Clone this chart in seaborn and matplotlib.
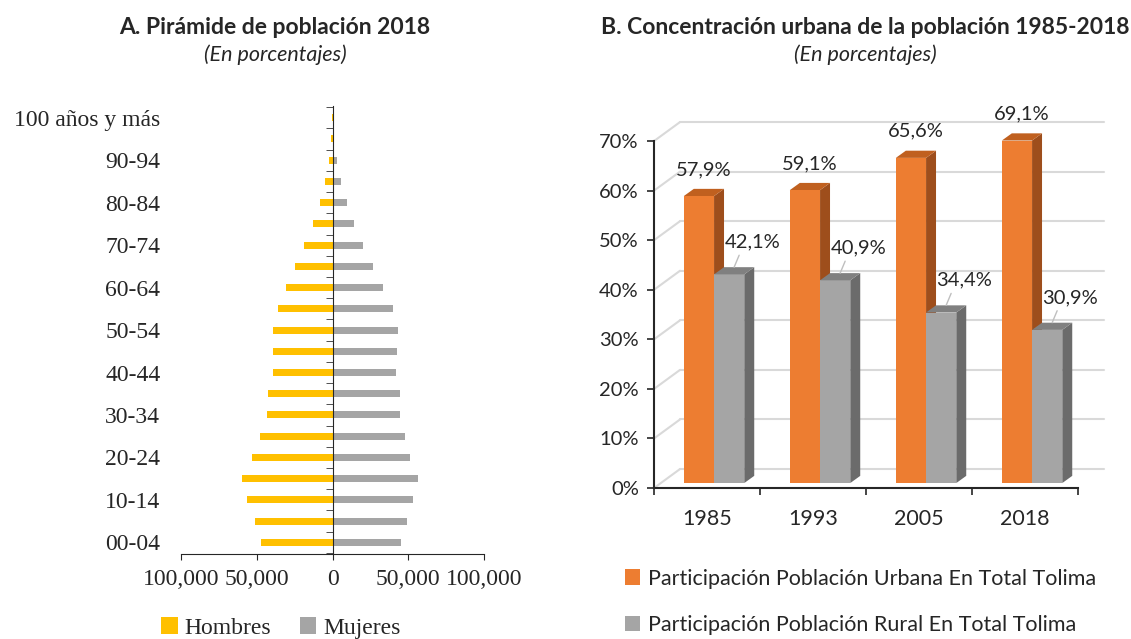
import numpy as np
import pandas as pd
import seaborn as sns
import matplotlib.pyplot as plt
from matplotlib.patches import Polygon

sns.set_style('ticks')
plt.rcParams['font.family'] = ['Lato', 'DejaVu Sans']

# Panel A: population pyramid 2018 (persons)
edades = ['00-04', '05-09', '10-14', '15-19', '20-24', '25-29', '30-34', '35-39',
          '40-44', '45-49', '50-54', '55-59', '60-64', '65-69', '70-74', '75-79',
          '80-84', '85-89', '90-94', '95-99', '100 años y más']
hombres = [47200, 51400, 56100, 59600, 53400, 47900, 43200, 42600, 39300, 39100, 39500,
           36000, 30700, 24700, 18800, 12800, 8200, 4800, 2600, 700, 60]
mujeres = [45500, 49000, 53400, 56300, 51400, 47900, 44600, 44400, 41900, 42800, 43500,
           39700, 33300, 26700, 20300, 14100, 9300, 5500, 2900, 1300, 150]
sexos = ['Hombres', 'Mujeres']
x_ticks_pir = [-100000, -50000, 0, 50000, 100000]

# Panel B: urban / rural share
anios = ['1985', '1993', '2005', '2018']
urbana = [57.9, 59.1, 65.6, 69.1]
rural = [42.1, 40.9, 34.4, 30.9]
series = ['Participación Población Urbana En Total Tolima',
          'Participación Población Rural En Total Tolima']

serif = 'Liberation Serif'

fig = plt.figure(figsize=(11.31, 6.39), dpi=100)
ax1 = fig.add_axes([0.16, 0.133, 0.268, 0.701])
ax2 = fig.add_axes([0.5783, 0.2363, 0.3749, 0.543])

# ---- pyramid
pir = pd.DataFrame({
    'edad': edades * 2,
    'sexo': [sexos[0]] * len(edades) + [sexos[1]] * len(edades),
    'valor': [-h for h in hombres] + mujeres,
})
sns.barplot(data=pir, x='valor', y='edad', hue='sexo', order=edades[::-1],
            hue_order=sexos, palette=['#FFC000', '#A5A5A5'], dodge=False,
            width=0.33, saturation=1, errorbar=None, linewidth=0, ax=ax1)
ax1.set_xlim(-100000, 100000)
ax1.set_ylim(20.55, -0.55)
ax1.set_xlabel('')
ax1.set_ylabel('')
ax1.spines['left'].set_position(('data', 0))
ax1.spines['top'].set_visible(False)
ax1.spines['right'].set_visible(False)
ax1.set_xticks(x_ticks_pir)
ax1.set_xticklabels([f'{abs(v):,}' for v in x_ticks_pir], fontfamily=serif, fontsize=17)
ax1.set_yticks(range(0, 21, 2))
ax1.set_yticklabels(edades[::-1][0::2], fontfamily=serif, fontsize=17)
ax1.set_yticks(np.arange(-0.5, 21, 1.0), minor=True)
ax1.tick_params(axis='y', which='major', length=0, pad=124)
ax1.tick_params(axis='y', which='minor', length=5, direction='out', color='#333333')
ax1.tick_params(axis='x', length=4, direction='out', pad=7)
ax1.legend(loc='center', bbox_to_anchor=(0.33, -0.165), ncol=2, frameon=False,
           prop={'family': serif, 'size': 17}, handlelength=0.7, handleheight=0.7,
           columnspacing=1.2, handletextpad=0.3)

fig.text(275 / 1131, 1 - 28 / 639, 'A. Pirámide de población 2018', ha='center',
         va='center', fontsize=16.5, fontweight='bold')
fig.text(275 / 1131, 1 - 55 / 639, '(En porcentajes)', ha='center', va='center',
         fontsize=15.5, style='italic')

# ---- 3D-looking column chart
urb = pd.DataFrame({
    'anio': anios * 2,
    'serie': [series[0]] * len(anios) + [series[1]] * len(anios),
    'valor': urbana + rural,
})
sns.barplot(data=urb, x='anio', y='valor', hue='serie', hue_order=series,
            palette=['#ED7D31', '#A5A5A5'], width=0.57, saturation=1,
            errorbar=None, linewidth=0, ax=ax2)

dx, dy = 0.094, 1.45      # bar depth
sx, sy = 0.066, 1.0       # bar shift towards the middle of the floor
caras = [('#9E4E1C', '#C0601F', 2), ('#6B6B6B', '#808080', 3.2)]
for cont, (side, top, z) in zip(ax2.containers, caras):
    for p in cont:
        p.set_x(p.get_x() + sx)
        p.set_y(sy)
        p.set_zorder(3)
        p.set_clip_on(False)
        x0 = p.get_x()
        x1 = x0 + p.get_width()
        y0 = sy
        y1 = sy + p.get_height()
        ax2.add_patch(Polygon([(x1, y0), (x1 + dx, y0 + dy), (x1 + dx, y1 + dy), (x1, y1)],
                              closed=True, fc=side, ec='none', zorder=z, clip_on=False))
        ax2.add_patch(Polygon([(x0, y1), (x0 + dx, y1 + dy), (x1 + dx, y1 + dy), (x1, y1)],
                              closed=True, fc=top, ec='none', zorder=z, clip_on=False))

# data labels
for p, v in zip(ax2.containers[0], urbana):
    xc = p.get_x() + p.get_width() / 2 + dx / 2
    ax2.annotate(f'{v:.1f}%'.replace('.', ','), (xc, p.get_height() + sy + dy),
                 xytext=(0, 14), textcoords='offset points', ha='center', va='center',
                 fontsize=14.5, zorder=5, annotation_clip=False)
for p, v in zip(ax2.containers[1], rural):
    xc = p.get_x() + p.get_width() / 2 + dx / 2
    ax2.annotate(f'{v:.1f}%'.replace('.', ','), (xc, p.get_height() + sy + dy),
                 xytext=(13, 18), textcoords='offset points', ha='center', va='center',
                 fontsize=14.5, zorder=5, annotation_clip=False,
                 arrowprops=dict(arrowstyle='-', color='#BFBFBF', lw=1,
                                 relpos=(0.3, 0.0), shrinkA=1, shrinkB=0))

# back wall gridlines
wx, wy = 0.245, 3.83
for v in range(0, 71, 10):
    ax2.plot([-0.5, -0.5 + wx], [v, v + wy], color='#D9D9D9', lw=1.5, zorder=1, clip_on=False)
    ax2.plot([-0.5 + wx, 3.5 + wx], [v + wy, v + wy], color='#D9D9D9', lw=1.5, zorder=1,
             clip_on=False)

ax2.set_xlim(-0.5, 3.5)
ax2.set_ylim(0, 70)
ax2.set_xlabel('')
ax2.set_ylabel('')
ax2.spines['top'].set_visible(False)
ax2.spines['right'].set_visible(False)
ax2.spines['left'].set_linewidth(1.5)
ax2.spines['bottom'].set_linewidth(1.5)
ax2.set_yticks(range(0, 71, 10))
ax2.set_yticklabels([f'{v}%' for v in range(0, 71, 10)], fontsize=14.5)
ax2.set_xticks(range(len(anios)))
ax2.set_xticklabels(anios, fontsize=15.5)
ax2.set_xticks(np.arange(-0.5, 4, 1.0), minor=True)
ax2.tick_params(axis='x', which='major', length=0, pad=15)
ax2.tick_params(axis='x', which='minor', length=5, width=1.2, direction='out')
ax2.tick_params(axis='y', length=5, width=1.2, direction='out', pad=6)

ax2.legend(loc='upper left', bbox_to_anchor=(-0.068, -0.232), frameon=False,
           fontsize=15.5, handlelength=0.7, handleheight=0.7, handletextpad=0.35,
           labelspacing=1.25, borderaxespad=0, borderpad=0)

fig.text(865 / 1131, 1 - 28 / 639, 'B. Concentración urbana de la población 1985-2018',
         ha='center', va='center', fontsize=16.5, fontweight='bold')
fig.text(865 / 1131, 1 - 55 / 639, '(En porcentajes)', ha='center', va='center',
         fontsize=15.5, style='italic')

fig.savefig('out.png', dpi=100)
